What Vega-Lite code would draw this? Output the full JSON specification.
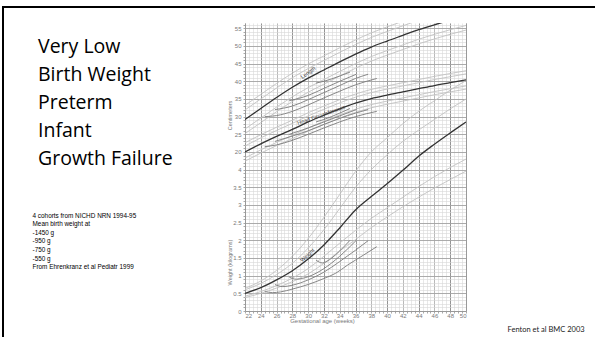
{
  "$schema": "https://vega.github.io/schema/vega-lite/v6.json",
  "width": 221,
  "height": 288,
  "autosize": {"type": "none"},
  "padding": {"left": 245, "top": 23, "right": 129, "bottom": 26},
  "background": "white",
  "config": {"view": {"stroke": null}, "legend": {"strokeWidth": 2}},
  "title": {
    "text": ["Very Low", "Birth Weight", "Preterm", "Infant", "Growth Failure"],
    "anchor": "start",
    "frame": "group",
    "orient": "top",
    "baseline": "top",
    "offset": 0,
    "dx": -207,
    "dy": 163,
    "font": "Open Sans",
    "fontSize": 19.5,
    "fontWeight": "normal",
    "color": "#000000",
    "lineHeight": 28
  },
  "datasets": {
    "weight": [
      {"curve": "P3", "week": 22, "kg": 0.38}, {"curve": "P3", "week": 24, "kg": 0.5}, {"curve": "P3", "week": 26, "kg": 0.65}, {"curve": "P3", "week": 28, "kg": 0.83}, {"curve": "P3", "week": 30, "kg": 1.05}, {"curve": "P3", "week": 32, "kg": 1.35}, {"curve": "P3", "week": 34, "kg": 1.7}, {"curve": "P3", "week": 36, "kg": 2.02}, {"curve": "P3", "week": 38, "kg": 2.36}, {"curve": "P3", "week": 40, "kg": 2.66}, {"curve": "P3", "week": 42, "kg": 2.95}, {"curve": "P3", "week": 44, "kg": 3.22}, {"curve": "P3", "week": 46, "kg": 3.48}, {"curve": "P3", "week": 48, "kg": 3.72}, {"curve": "P3", "week": 50, "kg": 3.96},
      {"curve": "P10", "week": 22, "kg": 0.42}, {"curve": "P10", "week": 24, "kg": 0.55}, {"curve": "P10", "week": 26, "kg": 0.72}, {"curve": "P10", "week": 28, "kg": 0.93}, {"curve": "P10", "week": 30, "kg": 1.2}, {"curve": "P10", "week": 32, "kg": 1.55}, {"curve": "P10", "week": 34, "kg": 1.92}, {"curve": "P10", "week": 36, "kg": 2.28}, {"curve": "P10", "week": 38, "kg": 2.62}, {"curve": "P10", "week": 40, "kg": 2.92}, {"curve": "P10", "week": 42, "kg": 3.22}, {"curve": "P10", "week": 44, "kg": 3.52}, {"curve": "P10", "week": 46, "kg": 3.8}, {"curve": "P10", "week": 48, "kg": 4.06}, {"curve": "P10", "week": 50, "kg": 4.3},
      {"curve": "P50", "week": 22, "kg": 0.5}, {"curve": "P50", "week": 24, "kg": 0.66}, {"curve": "P50", "week": 26, "kg": 0.88}, {"curve": "P50", "week": 28, "kg": 1.14}, {"curve": "P50", "week": 30, "kg": 1.47}, {"curve": "P50", "week": 32, "kg": 1.87}, {"curve": "P50", "week": 34, "kg": 2.35}, {"curve": "P50", "week": 36, "kg": 2.86}, {"curve": "P50", "week": 38, "kg": 3.24}, {"curve": "P50", "week": 40, "kg": 3.6}, {"curve": "P50", "week": 42, "kg": 3.98}, {"curve": "P50", "week": 44, "kg": 4.38}, {"curve": "P50", "week": 46, "kg": 4.72}, {"curve": "P50", "week": 48, "kg": 5.04}, {"curve": "P50", "week": 50, "kg": 5.35},
      {"curve": "P90", "week": 22, "kg": 0.6}, {"curve": "P90", "week": 24, "kg": 0.78}, {"curve": "P90", "week": 26, "kg": 1.03}, {"curve": "P90", "week": 28, "kg": 1.35}, {"curve": "P90", "week": 30, "kg": 1.78}, {"curve": "P90", "week": 32, "kg": 2.3}, {"curve": "P90", "week": 34, "kg": 2.9}, {"curve": "P90", "week": 36, "kg": 3.5}, {"curve": "P90", "week": 38, "kg": 4.0}, {"curve": "P90", "week": 40, "kg": 4.42}, {"curve": "P90", "week": 42, "kg": 4.8}, {"curve": "P90", "week": 44, "kg": 5.12}, {"curve": "P90", "week": 46, "kg": 5.42}, {"curve": "P90", "week": 48, "kg": 5.72}, {"curve": "P90", "week": 50, "kg": 6.0},
      {"curve": "P97", "week": 22, "kg": 0.64}, {"curve": "P97", "week": 24, "kg": 0.85}, {"curve": "P97", "week": 26, "kg": 1.15}, {"curve": "P97", "week": 28, "kg": 1.55}, {"curve": "P97", "week": 30, "kg": 2.05}, {"curve": "P97", "week": 32, "kg": 2.65}, {"curve": "P97", "week": 34, "kg": 3.3}, {"curve": "P97", "week": 36, "kg": 3.95}, {"curve": "P97", "week": 38, "kg": 4.5}, {"curve": "P97", "week": 40, "kg": 4.9}, {"curve": "P97", "week": 42, "kg": 5.3}, {"curve": "P97", "week": 44, "kg": 5.65}, {"curve": "P97", "week": 46, "kg": 5.95}, {"curve": "P97", "week": 48, "kg": 6.25}, {"curve": "P97", "week": 50, "kg": 6.52}
    ],
    "cmcurves": [
      {"measure": "Length", "curve": "P3", "week": 22, "cm": 25.2}, {"measure": "Length", "curve": "P3", "week": 24, "cm": 28.3}, {"measure": "Length", "curve": "P3", "week": 26, "cm": 31.4}, {"measure": "Length", "curve": "P3", "week": 28, "cm": 34.3}, {"measure": "Length", "curve": "P3", "week": 30, "cm": 36.9}, {"measure": "Length", "curve": "P3", "week": 32, "cm": 39.2}, {"measure": "Length", "curve": "P3", "week": 34, "cm": 41.5}, {"measure": "Length", "curve": "P3", "week": 36, "cm": 43.7}, {"measure": "Length", "curve": "P3", "week": 38, "cm": 45.7}, {"measure": "Length", "curve": "P3", "week": 40, "cm": 47.4}, {"measure": "Length", "curve": "P3", "week": 42, "cm": 49.0}, {"measure": "Length", "curve": "P3", "week": 44, "cm": 50.6}, {"measure": "Length", "curve": "P3", "week": 46, "cm": 52.0}, {"measure": "Length", "curve": "P3", "week": 48, "cm": 53.3}, {"measure": "Length", "curve": "P3", "week": 50, "cm": 54.5},
      {"measure": "Length", "curve": "P10", "week": 22, "cm": 26.5}, {"measure": "Length", "curve": "P10", "week": 24, "cm": 29.6}, {"measure": "Length", "curve": "P10", "week": 26, "cm": 32.7}, {"measure": "Length", "curve": "P10", "week": 28, "cm": 35.6}, {"measure": "Length", "curve": "P10", "week": 30, "cm": 38.2}, {"measure": "Length", "curve": "P10", "week": 32, "cm": 40.5}, {"measure": "Length", "curve": "P10", "week": 34, "cm": 42.8}, {"measure": "Length", "curve": "P10", "week": 36, "cm": 45.0}, {"measure": "Length", "curve": "P10", "week": 38, "cm": 47.0}, {"measure": "Length", "curve": "P10", "week": 40, "cm": 48.7}, {"measure": "Length", "curve": "P10", "week": 42, "cm": 50.3}, {"measure": "Length", "curve": "P10", "week": 44, "cm": 51.9}, {"measure": "Length", "curve": "P10", "week": 46, "cm": 53.3}, {"measure": "Length", "curve": "P10", "week": 48, "cm": 54.6}, {"measure": "Length", "curve": "P10", "week": 50, "cm": 55.8},
      {"measure": "Length", "curve": "P50", "week": 22, "cm": 29.2}, {"measure": "Length", "curve": "P50", "week": 24, "cm": 32.3}, {"measure": "Length", "curve": "P50", "week": 26, "cm": 35.4}, {"measure": "Length", "curve": "P50", "week": 28, "cm": 38.3}, {"measure": "Length", "curve": "P50", "week": 30, "cm": 40.9}, {"measure": "Length", "curve": "P50", "week": 32, "cm": 43.2}, {"measure": "Length", "curve": "P50", "week": 34, "cm": 45.5}, {"measure": "Length", "curve": "P50", "week": 36, "cm": 47.7}, {"measure": "Length", "curve": "P50", "week": 38, "cm": 49.7}, {"measure": "Length", "curve": "P50", "week": 40, "cm": 51.4}, {"measure": "Length", "curve": "P50", "week": 42, "cm": 53.0}, {"measure": "Length", "curve": "P50", "week": 44, "cm": 54.6}, {"measure": "Length", "curve": "P50", "week": 46, "cm": 56.0}, {"measure": "Length", "curve": "P50", "week": 48, "cm": 57.3}, {"measure": "Length", "curve": "P50", "week": 50, "cm": 58.5},
      {"measure": "Length", "curve": "P90", "week": 22, "cm": 31.9}, {"measure": "Length", "curve": "P90", "week": 24, "cm": 35.0}, {"measure": "Length", "curve": "P90", "week": 26, "cm": 38.1}, {"measure": "Length", "curve": "P90", "week": 28, "cm": 41.0}, {"measure": "Length", "curve": "P90", "week": 30, "cm": 43.6}, {"measure": "Length", "curve": "P90", "week": 32, "cm": 45.9}, {"measure": "Length", "curve": "P90", "week": 34, "cm": 48.2}, {"measure": "Length", "curve": "P90", "week": 36, "cm": 50.4}, {"measure": "Length", "curve": "P90", "week": 38, "cm": 52.4}, {"measure": "Length", "curve": "P90", "week": 40, "cm": 54.1}, {"measure": "Length", "curve": "P90", "week": 42, "cm": 55.7}, {"measure": "Length", "curve": "P90", "week": 44, "cm": 57.3},
      {"measure": "Length", "curve": "P97", "week": 22, "cm": 33.2}, {"measure": "Length", "curve": "P97", "week": 24, "cm": 36.3}, {"measure": "Length", "curve": "P97", "week": 26, "cm": 39.4}, {"measure": "Length", "curve": "P97", "week": 28, "cm": 42.3}, {"measure": "Length", "curve": "P97", "week": 30, "cm": 44.9}, {"measure": "Length", "curve": "P97", "week": 32, "cm": 47.2}, {"measure": "Length", "curve": "P97", "week": 34, "cm": 49.5}, {"measure": "Length", "curve": "P97", "week": 36, "cm": 51.7}, {"measure": "Length", "curve": "P97", "week": 38, "cm": 53.7}, {"measure": "Length", "curve": "P97", "week": 40, "cm": 55.4}, {"measure": "Length", "curve": "P97", "week": 42, "cm": 57.0},
      {"measure": "Head", "curve": "P3", "week": 22, "cm": 17.4}, {"measure": "Head", "curve": "P3", "week": 24, "cm": 19.7}, {"measure": "Head", "curve": "P3", "week": 26, "cm": 21.8}, {"measure": "Head", "curve": "P3", "week": 28, "cm": 23.8}, {"measure": "Head", "curve": "P3", "week": 30, "cm": 25.9}, {"measure": "Head", "curve": "P3", "week": 32, "cm": 27.8}, {"measure": "Head", "curve": "P3", "week": 34, "cm": 29.6}, {"measure": "Head", "curve": "P3", "week": 36, "cm": 31.2}, {"measure": "Head", "curve": "P3", "week": 38, "cm": 32.5}, {"measure": "Head", "curve": "P3", "week": 40, "cm": 33.5}, {"measure": "Head", "curve": "P3", "week": 42, "cm": 34.4}, {"measure": "Head", "curve": "P3", "week": 44, "cm": 35.3}, {"measure": "Head", "curve": "P3", "week": 46, "cm": 36.2}, {"measure": "Head", "curve": "P3", "week": 48, "cm": 37.0}, {"measure": "Head", "curve": "P3", "week": 50, "cm": 37.8},
      {"measure": "Head", "curve": "P10", "week": 22, "cm": 18.3}, {"measure": "Head", "curve": "P10", "week": 24, "cm": 20.6}, {"measure": "Head", "curve": "P10", "week": 26, "cm": 22.7}, {"measure": "Head", "curve": "P10", "week": 28, "cm": 24.7}, {"measure": "Head", "curve": "P10", "week": 30, "cm": 26.8}, {"measure": "Head", "curve": "P10", "week": 32, "cm": 28.7}, {"measure": "Head", "curve": "P10", "week": 34, "cm": 30.5}, {"measure": "Head", "curve": "P10", "week": 36, "cm": 32.1}, {"measure": "Head", "curve": "P10", "week": 38, "cm": 33.4}, {"measure": "Head", "curve": "P10", "week": 40, "cm": 34.4}, {"measure": "Head", "curve": "P10", "week": 42, "cm": 35.3}, {"measure": "Head", "curve": "P10", "week": 44, "cm": 36.2}, {"measure": "Head", "curve": "P10", "week": 46, "cm": 37.1}, {"measure": "Head", "curve": "P10", "week": 48, "cm": 37.9}, {"measure": "Head", "curve": "P10", "week": 50, "cm": 38.7},
      {"measure": "Head", "curve": "P50", "week": 22, "cm": 20.0}, {"measure": "Head", "curve": "P50", "week": 24, "cm": 22.3}, {"measure": "Head", "curve": "P50", "week": 26, "cm": 24.4}, {"measure": "Head", "curve": "P50", "week": 28, "cm": 26.4}, {"measure": "Head", "curve": "P50", "week": 30, "cm": 28.5}, {"measure": "Head", "curve": "P50", "week": 32, "cm": 30.4}, {"measure": "Head", "curve": "P50", "week": 34, "cm": 32.2}, {"measure": "Head", "curve": "P50", "week": 36, "cm": 33.8}, {"measure": "Head", "curve": "P50", "week": 38, "cm": 35.1}, {"measure": "Head", "curve": "P50", "week": 40, "cm": 36.1}, {"measure": "Head", "curve": "P50", "week": 42, "cm": 37.0}, {"measure": "Head", "curve": "P50", "week": 44, "cm": 37.9}, {"measure": "Head", "curve": "P50", "week": 46, "cm": 38.8}, {"measure": "Head", "curve": "P50", "week": 48, "cm": 39.6}, {"measure": "Head", "curve": "P50", "week": 50, "cm": 40.4},
      {"measure": "Head", "curve": "P90", "week": 22, "cm": 21.7}, {"measure": "Head", "curve": "P90", "week": 24, "cm": 24.0}, {"measure": "Head", "curve": "P90", "week": 26, "cm": 26.1}, {"measure": "Head", "curve": "P90", "week": 28, "cm": 28.1}, {"measure": "Head", "curve": "P90", "week": 30, "cm": 30.2}, {"measure": "Head", "curve": "P90", "week": 32, "cm": 32.1}, {"measure": "Head", "curve": "P90", "week": 34, "cm": 33.9}, {"measure": "Head", "curve": "P90", "week": 36, "cm": 35.5}, {"measure": "Head", "curve": "P90", "week": 38, "cm": 36.8}, {"measure": "Head", "curve": "P90", "week": 40, "cm": 37.8}, {"measure": "Head", "curve": "P90", "week": 42, "cm": 38.7}, {"measure": "Head", "curve": "P90", "week": 44, "cm": 39.6}, {"measure": "Head", "curve": "P90", "week": 46, "cm": 40.5}, {"measure": "Head", "curve": "P90", "week": 48, "cm": 41.3}, {"measure": "Head", "curve": "P90", "week": 50, "cm": 42.1},
      {"measure": "Head", "curve": "P97", "week": 22, "cm": 22.6}, {"measure": "Head", "curve": "P97", "week": 24, "cm": 24.9}, {"measure": "Head", "curve": "P97", "week": 26, "cm": 27.0}, {"measure": "Head", "curve": "P97", "week": 28, "cm": 29.0}, {"measure": "Head", "curve": "P97", "week": 30, "cm": 31.1}, {"measure": "Head", "curve": "P97", "week": 32, "cm": 33.0}, {"measure": "Head", "curve": "P97", "week": 34, "cm": 34.8}, {"measure": "Head", "curve": "P97", "week": 36, "cm": 36.4}, {"measure": "Head", "curve": "P97", "week": 38, "cm": 37.7}, {"measure": "Head", "curve": "P97", "week": 40, "cm": 38.7}, {"measure": "Head", "curve": "P97", "week": 42, "cm": 39.6}, {"measure": "Head", "curve": "P97", "week": 44, "cm": 40.5}, {"measure": "Head", "curve": "P97", "week": 46, "cm": 41.4}, {"measure": "Head", "curve": "P97", "week": 48, "cm": 42.2}, {"measure": "Head", "curve": "P97", "week": 50, "cm": 43.0}
    ],
    "weightNICHD": [
      {"cohort": "550 g", "week": 24.5, "kg": 0.55}, {"cohort": "550 g", "week": 25.5, "kg": 0.52}, {"cohort": "550 g", "week": 26.5, "kg": 0.54}, {"cohort": "550 g", "week": 28, "kg": 0.62}, {"cohort": "550 g", "week": 30, "kg": 0.75}, {"cohort": "550 g", "week": 32, "kg": 0.92}, {"cohort": "550 g", "week": 33.5, "kg": 1.07}, {"cohort": "550 g", "week": 35, "kg": 1.3}, {"cohort": "550 g", "week": 37, "kg": 1.58}, {"cohort": "550 g", "week": 38.7, "kg": 1.82},
      {"cohort": "750 g", "week": 25.8, "kg": 0.75}, {"cohort": "750 g", "week": 26.8, "kg": 0.69}, {"cohort": "750 g", "week": 28, "kg": 0.73}, {"cohort": "750 g", "week": 30, "kg": 0.88}, {"cohort": "750 g", "week": 32, "kg": 1.1}, {"cohort": "750 g", "week": 34, "kg": 1.4}, {"cohort": "750 g", "week": 36, "kg": 1.72}, {"cohort": "750 g", "week": 37.6, "kg": 1.99},
      {"cohort": "950 g", "week": 27.6, "kg": 0.96}, {"cohort": "950 g", "week": 28.5, "kg": 0.9}, {"cohort": "950 g", "week": 30, "kg": 0.97}, {"cohort": "950 g", "week": 32, "kg": 1.2}, {"cohort": "950 g", "week": 34, "kg": 1.55}, {"cohort": "950 g", "week": 36.1, "kg": 2.0},
      {"cohort": "1450 g", "week": 31, "kg": 1.44}, {"cohort": "1450 g", "week": 31.8, "kg": 1.36}, {"cohort": "1450 g", "week": 33, "kg": 1.5}, {"cohort": "1450 g", "week": 34, "kg": 1.7}, {"cohort": "1450 g", "week": 35.3, "kg": 2.0}
    ],
    "cmNICHD": [
      {"measure": "Length", "cohort": "550 g", "week": 24.5, "cm": 30.0}, {"measure": "Length", "cohort": "550 g", "week": 26, "cm": 30.3}, {"measure": "Length", "cohort": "550 g", "week": 28, "cm": 31.5}, {"measure": "Length", "cohort": "550 g", "week": 30, "cm": 33.3}, {"measure": "Length", "cohort": "550 g", "week": 32, "cm": 35.3}, {"measure": "Length", "cohort": "550 g", "week": 34, "cm": 37.2}, {"measure": "Length", "cohort": "550 g", "week": 36, "cm": 39.0}, {"measure": "Length", "cohort": "550 g", "week": 38.7, "cm": 40.8},
      {"measure": "Length", "cohort": "750 g", "week": 25.8, "cm": 32.0}, {"measure": "Length", "cohort": "750 g", "week": 28, "cm": 33.0}, {"measure": "Length", "cohort": "750 g", "week": 30, "cm": 34.8}, {"measure": "Length", "cohort": "750 g", "week": 32, "cm": 36.8}, {"measure": "Length", "cohort": "750 g", "week": 34, "cm": 38.8}, {"measure": "Length", "cohort": "750 g", "week": 36, "cm": 40.8}, {"measure": "Length", "cohort": "750 g", "week": 37.6, "cm": 42.0},
      {"measure": "Length", "cohort": "950 g", "week": 27.6, "cm": 34.5}, {"measure": "Length", "cohort": "950 g", "week": 30, "cm": 36.0}, {"measure": "Length", "cohort": "950 g", "week": 32, "cm": 38.0}, {"measure": "Length", "cohort": "950 g", "week": 34, "cm": 40.0}, {"measure": "Length", "cohort": "950 g", "week": 36.1, "cm": 42.0},
      {"measure": "Length", "cohort": "1450 g", "week": 31, "cm": 39.5}, {"measure": "Length", "cohort": "1450 g", "week": 32, "cm": 40.0}, {"measure": "Length", "cohort": "1450 g", "week": 34, "cm": 41.5}, {"measure": "Length", "cohort": "1450 g", "week": 35.3, "cm": 42.6},
      {"measure": "Head", "cohort": "550 g", "week": 24.5, "cm": 21.5}, {"measure": "Head", "cohort": "550 g", "week": 26, "cm": 22.0}, {"measure": "Head", "cohort": "550 g", "week": 28, "cm": 23.3}, {"measure": "Head", "cohort": "550 g", "week": 30, "cm": 25.0}, {"measure": "Head", "cohort": "550 g", "week": 32, "cm": 26.8}, {"measure": "Head", "cohort": "550 g", "week": 34, "cm": 28.5}, {"measure": "Head", "cohort": "550 g", "week": 36, "cm": 30.0}, {"measure": "Head", "cohort": "550 g", "week": 38.7, "cm": 31.5},
      {"measure": "Head", "cohort": "750 g", "week": 25.8, "cm": 23.0}, {"measure": "Head", "cohort": "750 g", "week": 28, "cm": 24.5}, {"measure": "Head", "cohort": "750 g", "week": 30, "cm": 26.0}, {"measure": "Head", "cohort": "750 g", "week": 32, "cm": 27.8}, {"measure": "Head", "cohort": "750 g", "week": 34, "cm": 29.5}, {"measure": "Head", "cohort": "750 g", "week": 36, "cm": 31.0}, {"measure": "Head", "cohort": "750 g", "week": 37.6, "cm": 32.0},
      {"measure": "Head", "cohort": "950 g", "week": 27.6, "cm": 25.0}, {"measure": "Head", "cohort": "950 g", "week": 30, "cm": 26.8}, {"measure": "Head", "cohort": "950 g", "week": 32, "cm": 28.5}, {"measure": "Head", "cohort": "950 g", "week": 34, "cm": 30.2}, {"measure": "Head", "cohort": "950 g", "week": 36.1, "cm": 32.0},
      {"measure": "Head", "cohort": "1450 g", "week": 31, "cm": 28.5}, {"measure": "Head", "cohort": "1450 g", "week": 32, "cm": 29.2}, {"measure": "Head", "cohort": "1450 g", "week": 34, "cm": 31.0}, {"measure": "Head", "cohort": "1450 g", "week": 35.3, "cm": 32.3}
    ],
    "labels": [
      {"label": "Length", "week": 29.97, "value": 42.5},
      {"label": "Head Circumference", "week": 31.66, "value": 30.5},
      {"label": "Weight", "week": 29.9, "value": 1.585}
    ]
  },
  "layer": [
    {
      "data": {"name": "weight"},
      "transform": [{"filter": "datum.curve === 'P50'"}],
      "mark": {"type": "line", "strokeOpacity": 0},
      "encoding": {
        "x": {"field": "week", "type": "quantitative", "scale": {"domain": [22, 50], "nice": false, "zero": false},
          "axis": {"orient": "bottom", "values": [22,22.5,23,23.5,24,24.5,25,25.5,26,26.5,27,27.5,28,28.5,29,29.5,30,30.5,31,31.5,32,32.5,33,33.5,34,34.5,35,35.5,36,36.5,37,37.5,38,38.5,39,39.5,40,40.5,41,41.5,42,42.5,43,43.5,44,44.5,45,45.5,46,46.5,47,47.5,48,48.5,49,49.5,50],
            "grid": true, "gridColor": "#d9d9d9", "gridWidth": 0.6, "labels": false, "ticks": true, "tickSize": 2, "tickColor": "#aaaaaa", "domain": true, "domainColor": "#999999", "title": null}},
        "y": {"field": "kg", "type": "quantitative", "scale": {"domain": [0, 8.15], "nice": false, "zero": false},
          "axis": {"orient": "left", "values": [0,0.1,0.2,0.3,0.4,0.5,0.6,0.7,0.8,0.9,1,1.1,1.2,1.3,1.4,1.5,1.6,1.7,1.8,1.9,2,2.1,2.2,2.3,2.4,2.5,2.6,2.7,2.8,2.9,3,3.1,3.2,3.3,3.4,3.5,3.6,3.7,3.8,3.9,4,4.1,4.2,4.3,4.4,4.5,4.6,4.7,4.8,4.9,5,5.1,5.2,5.3,5.4,5.5,5.6,5.7,5.8,5.9,6,6.1,6.2,6.3,6.4,6.5,6.6,6.7,6.8,6.9,7,7.1,7.2,7.3,7.4,7.5,7.6,7.7,7.8,7.9,8,8.1],
            "grid": true, "gridColor": "#d6d6d6", "gridWidth": 0.6, "labels": false, "ticks": true, "tickSize": 2, "tickColor": "#aaaaaa", "domain": true, "domainColor": "#999999", "title": null}}
      }
    },
    {
      "data": {"name": "weight"},
      "transform": [{"filter": "datum.curve !== 'P50'"}],
      "mark": {"type": "line", "color": "#c2c2c2", "strokeWidth": 0.9, "interpolate": "monotone", "clip": true},
      "encoding": {
        "x": {"field": "week", "type": "quantitative", "scale": {"domain": [22, 50], "nice": false, "zero": false},
          "axis": {"orient": "bottom", "values": [22,24,26,28,30,32,34,36,38,40,42,44,46,48,50],
            "grid": true, "gridColor": {"condition": {"test": "datum.value % 4 === 0", "value": "#8a8a8a"}, "value": "#b4b4b4"}, "gridWidth": 0.9,
            "ticks": false, "domain": false, "labelPadding": 1, "labelFont": "Liberation Sans", "labelFontSize": 6, "labelColor": "#7a7a7a",
            "title": "Gestational age (weeks)", "titleFont": "Liberation Sans", "titleFontSize": 6, "titleFontWeight": "normal", "titleColor": "#7a7a7a", "titleX": 77, "titleY": 9, "titleAlign": "center", "titleBaseline": "middle"}},
        "y": {"field": "kg", "type": "quantitative", "scale": {"domain": [0, 8.15], "nice": false, "zero": false},
          "axis": {"orient": "left", "values": [0,0.5,1,1.5,2,2.5,3,3.5,4,4.5,5,5.5,6,6.5,7,7.5,8], "format": "~g",
            "labelExpr": "datum.value > 4.2 ? format(round((datum.value - 2.5) * 10), 'd') : datum.label",
            "grid": true, "gridColor": "#9c9c9c", "gridWidth": 0.8, "ticks": false, "domain": false, "labelPadding": 4,
            "labelFont": "Liberation Sans", "labelFontSize": 6, "labelColor": "#7a7a7a",
            "title": "Weight (kilograms)", "titleFont": "Liberation Sans", "titleFontSize": 5.5, "titleFontWeight": "normal", "titleColor": "#7a7a7a", "titleX": -16, "titleY": 239, "titleAlign": "center", "titleBaseline": "middle", "titleAngle": 270}},
        "detail": {"field": "curve"}
      }
    },
    {
      "data": {"name": "cmcurves"},
      "transform": [{"filter": "datum.curve !== 'P50'"}],
      "mark": {"type": "line", "color": "#c2c2c2", "strokeWidth": 0.9, "interpolate": "monotone", "clip": true},
      "encoding": {
        "x": {"field": "week", "type": "quantitative", "scale": {"domain": [22, 50], "nice": false, "zero": false},
          "axis": {"orient": "bottom", "labels": false, "ticks": false, "domain": false, "grid": false,
            "title": ["4 cohorts  from NICHD NRN 1994-95", "Mean  birth weight  at", "-1450  g", "-950  g", "-750  g", "-550  g", "From  Ehrenkranz   et al Pediatr  1999"],
            "titleFont": "Liberation Sans", "titleFontSize": 6.4, "titleFontWeight": "normal", "titleColor": "#000000", "titleLineHeight": 8.6,
            "titleX": -213, "titleY": -99, "titleAlign": "left", "titleBaseline": "top", "titleAngle": 0}},
        "y": {"field": "cm", "type": "quantitative", "scale": {"domain": [-25, 56.5], "nice": false, "zero": false},
          "axis": {"orient": "left", "labels": false, "ticks": false, "domain": false, "grid": false,
            "title": "Centimeters", "titleFont": "Liberation Sans", "titleFontSize": 5.5, "titleFontWeight": "normal", "titleColor": "#7a7a7a", "titleX": -16, "titleY": 92, "titleAlign": "center", "titleBaseline": "middle", "titleAngle": 270}},
        "detail": [{"field": "measure"}, {"field": "curve"}]
      }
    },
    {
      "data": {"name": "weightNICHD"},
      "mark": {"type": "line", "strokeWidth": 0.9, "interpolate": "monotone", "clip": true},
      "encoding": {
        "x": {"field": "week", "type": "quantitative", "scale": {"domain": [22, 50], "nice": false, "zero": false}, "axis": null},
        "y": {"field": "kg", "type": "quantitative", "scale": {"domain": [0, 8.15], "nice": false, "zero": false},
          "axis": {"orient": "right", "labels": false, "ticks": false, "grid": false, "domain": true, "domainColor": "#999999",
            "title": "Fenton et al BMC 2003", "titleFont": "Lato", "titleFontSize": 7.5, "titleFontWeight": "normal", "titleColor": "#222222",
            "titleAngle": 0, "titleX": 41, "titleY": 306, "titleAlign": "left", "titleBaseline": "middle"}},
        "color": {"field": "cohort", "type": "nominal", "scale": {"range": ["#7c7c7c"]},
          "legend": {"orient": "none", "legendX": -242, "legendY": -16, "padding": 360, "strokeColor": "#000000", "title": null, "labelExpr": "''", "labelOpacity": 0, "symbolOpacity": 0, "symbolStrokeWidth": 0}}
      }
    },
    {
      "data": {"name": "cmNICHD"},
      "mark": {"type": "line", "color": "#7c7c7c", "strokeWidth": 0.9, "interpolate": "monotone", "clip": true},
      "encoding": {
        "x": {"field": "week", "type": "quantitative", "scale": {"domain": [22, 50], "nice": false, "zero": false}, "axis": null},
        "y": {"field": "cm", "type": "quantitative", "scale": {"domain": [-25, 56.5], "nice": false, "zero": false}, "axis": null},
        "detail": [{"field": "measure"}, {"field": "cohort"}]
      }
    },
    {
      "data": {"name": "weight"},
      "transform": [{"filter": "datum.curve === 'P50'"}],
      "mark": {"type": "line", "color": "#333333", "strokeWidth": 1.3, "interpolate": "monotone", "clip": true},
      "encoding": {
        "x": {"field": "week", "type": "quantitative", "scale": {"domain": [22, 50], "nice": false, "zero": false}, "axis": null},
        "y": {"field": "kg", "type": "quantitative", "scale": {"domain": [0, 8.15], "nice": false, "zero": false}, "axis": null}
      }
    },
    {
      "data": {"name": "cmcurves"},
      "transform": [{"filter": "datum.curve === 'P50'"}],
      "mark": {"type": "line", "color": "#333333", "strokeWidth": 1.3, "interpolate": "monotone", "clip": true},
      "encoding": {
        "x": {"field": "week", "type": "quantitative", "scale": {"domain": [22, 50], "nice": false, "zero": false}, "axis": null},
        "y": {"field": "cm", "type": "quantitative", "scale": {"domain": [-25, 56.5], "nice": false, "zero": false}, "axis": null},
        "detail": {"field": "measure"}
      }
    },
    {
      "data": {"name": "labels"},
      "transform": [{"filter": "datum.label === 'Length'"}],
      "mark": {"type": "text", "angle": 325, "font": "Liberation Sans", "fontSize": 5.5, "color": "#444444"},
      "encoding": {
        "x": {"field": "week", "type": "quantitative", "scale": {"domain": [22, 50], "nice": false, "zero": false}, "axis": null},
        "y": {"field": "value", "type": "quantitative", "scale": {"domain": [-25, 56.5], "nice": false, "zero": false}, "axis": null},
        "text": {"field": "label"}
      }
    },
    {
      "data": {"name": "labels"},
      "transform": [{"filter": "datum.label === 'Head Circumference'"}],
      "mark": {"type": "text", "angle": 341, "font": "Liberation Sans", "fontSize": 5.5, "color": "#444444"},
      "encoding": {
        "x": {"field": "week", "type": "quantitative", "scale": {"domain": [22, 50], "nice": false, "zero": false}, "axis": null},
        "y": {"field": "value", "type": "quantitative", "scale": {"domain": [-25, 56.5], "nice": false, "zero": false}, "axis": null},
        "text": {"field": "label"}
      }
    },
    {
      "data": {"name": "labels"},
      "transform": [{"filter": "datum.label === 'Weight'"}],
      "mark": {"type": "text", "angle": 318, "font": "Liberation Sans", "fontSize": 5.5, "color": "#444444"},
      "encoding": {
        "x": {"field": "week", "type": "quantitative", "scale": {"domain": [22, 50], "nice": false, "zero": false}, "axis": null},
        "y": {"field": "value", "type": "quantitative", "scale": {"domain": [0, 8.15], "nice": false, "zero": false}, "axis": null},
        "text": {"field": "label"}
      }
    }
  ],
  "resolve": {"scale": {"x": "independent", "y": "independent"}, "axis": {"x": "independent", "y": "independent"}}
}
